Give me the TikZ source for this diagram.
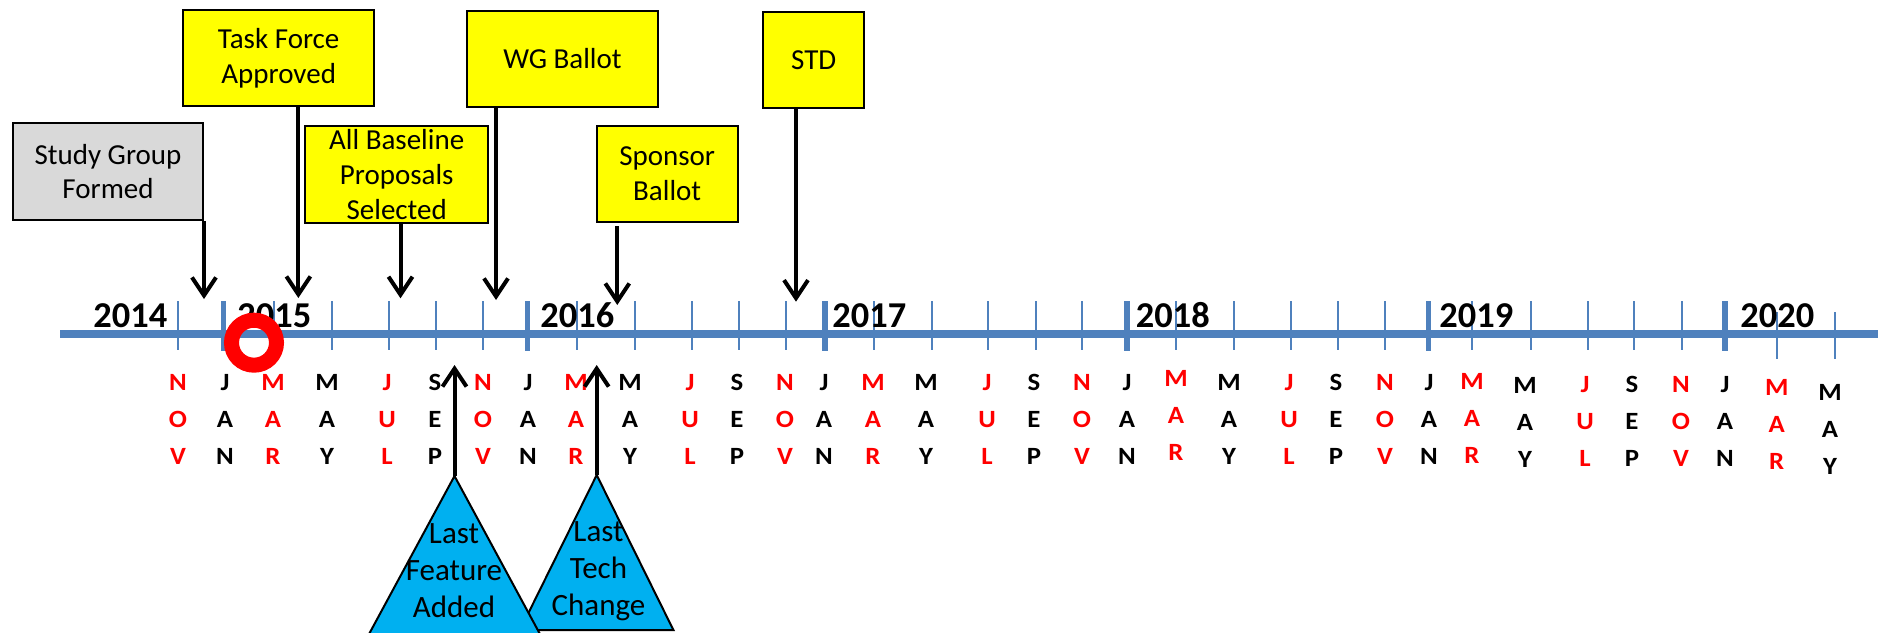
\documentclass[tikz,border=0pt]{standalone}
\usepackage{fontspec}
\setmainfont{Carlito}
\usetikzlibrary{arrows.meta}
\definecolor{axisblue}{HTML}{4F81BD}
\definecolor{boxgray}{HTML}{D9D9D9}
\definecolor{trifill}{HTML}{00B0F0}
\definecolor{monred}{HTML}{FF0000}
\definecolor{boxyellow}{HTML}{FFFF00}
\newfontfamily\monfam{Carlito}[FakeStretch=1.08]
\newcommand\boxfont{\fontsize{14.5pt}{17.3pt}\selectfont}
\newcommand\trifont{\fontsize{15.5pt}{18.5pt}\selectfont}
\newcommand\monfont{\monfam\bfseries\fontsize{12.4pt}{12.4pt}\selectfont}
\newcommand\yearfont{\bfseries\fontsize{18.2pt}{18.2pt}\selectfont}
\begin{document}
\begin{tikzpicture}[x=0.5pt,y=-0.5pt,
  box/.style={draw=black,line width=1pt,fill=boxyellow,align=center,inner sep=0pt,font=\boxfont},
  arr/.style={line width=2pt,-{Straight Barb[length=9pt,width=12pt]}},
  tick/.style={axisblue,line width=1pt},
  ytick/.style={axisblue,line width=2.6pt},
  mon/.style={anchor=base,inner sep=0pt,font=\monfont},
  yr/.style={anchor=base west,inner sep=0pt,font=\yearfont},
  tri/.style={draw=black,line width=1pt,fill=trifill,line join=miter},
  trit/.style={align=center,inner sep=0pt,font=\trifont}]
\useasboundingbox (0,0) rectangle (1878,632);
\clip (0,0) rectangle (1878,632);
% axis
\draw[axisblue,line width=4pt] (60,334) -- (1878,334);
\foreach \x in {178,274,331.5,389,436,482.5,576.7,635,692,738.6,786,873.5,932,988,1035.7,1082,1176,1234,1291,1338,1385,1472,1531,1588,1634,1681.5}
  \draw[tick] (\x,301) -- (\x,350);
\foreach \x in {1776.7,1835}
  \draw[tick] (\x,312) -- (\x,359);
\foreach \x in {223.5,527.6,825,1127,1428.6,1725}
  \draw[ytick] (\x,301) -- (\x,351);
% years
\node[yr] (y2014) at (93,327) {2014};
\node[yr] (y2015) at (237,327) {2015};
\node[yr] (y2016) at (540,327) {2016};
\node[yr] (y2017) at (832,327) {2017};
\node[yr] (y2018) at (1135.5,327) {2018};
\node[yr] (y2019) at (1439,327) {2019};
\node[yr] (y2020) at (1740,327) {2020};
% months
\foreach \x/\d/\a/\b/\c/\col [count=\i] in {
  178/0/N/O/V/monred,
  225/0/J/A/N/black, 273/0/M/A/R/monred, 327/0/M/A/Y/black, 387/0/J/U/L/monred, 435/0/S/E/P/black, 483/0/N/O/V/monred,
  528/0/J/A/N/black, 576/0/M/A/R/monred, 630/0/M/A/Y/black, 690/0/J/U/L/monred, 737/0/S/E/P/black, 785/0/N/O/V/monred,
  824/0/J/A/N/black, 873/0/M/A/R/monred, 926/0/M/A/Y/black, 987/0/J/U/L/monred, 1034/0/S/E/P/black, 1082/0/N/O/V/monred,
  1127/0/J/A/N/black, 1176/-4/M/A/R/monred, 1229/0/M/A/Y/black, 1289/0/J/U/L/monred, 1336/0/S/E/P/black, 1385/0/N/O/V/monred,
  1429/0/J/A/N/black, 1472/-1/M/A/R/monred, 1525/3/M/A/Y/black, 1585/2/J/U/L/monred, 1632/2/S/E/P/black, 1681/2/N/O/V/monred,
  1725/2/J/A/N/black, 1776.7/5/M/A/R/monred, 1830/10/M/A/Y/black} {
  \node[mon,text=\col] (m\i-1) at (\x,{390+\d}) {\a};
  \node[mon,text=\col] (m\i-2) at (\x,{427+\d}) {\b};
  \node[mon,text=\col] (m\i-3) at (\x,{464+\d}) {\c};
}
% red circle
\draw[monred,line width=7.5pt] (254,342.7) circle[radius=22.5];
% boxes
\node[box,fill=boxgray,minimum width=95.3pt,minimum height=48.3pt] (sg) at (108,171.7) {Study Group\\Formed};
\node[box,minimum width=95.3pt,minimum height=48pt] (tf) at (278.7,58) {Task Force\\Approved};
\node[box,minimum width=91.6pt,minimum height=48.3pt,font=\fontsize{14.5pt}{17.5pt}\selectfont] (ab) at (396.7,174.3) {All Baseline\\Proposals\\Selected};
\node[box,minimum width=95.8pt,minimum height=48pt] (wg) at (562.5,58.7) {WG Ballot};
\node[box,minimum width=70.5pt,minimum height=48pt] (sp) at (667.2,173.7) {Sponsor\\Ballot};
\node[box,minimum width=50.3pt,minimum height=48pt] (std) at (813.7,59.7) {STD};
% down arrows
\coordinate (sgT) at (204,299);
\coordinate (tfT) at (298.4,298);
\coordinate (abT) at (400.5,298.3);
\coordinate (wgT) at (496,300);
\coordinate (spT) at (617.3,305);
\coordinate (spS) at (617.3,226);
\coordinate (stdT) at (796,301.7);
\draw[arr] (sgT |- sg.south) -- (sgT);
\draw[arr] (tfT |- tf.south) -- (tfT);
\draw[arr] (abT |- ab.south) -- (abT);
\draw[arr] (wgT |- wg.south) -- (wgT);
\draw[arr] (spS) -- (spT);
\draw[arr] (stdT |- std.south) -- (stdT);
% triangles
\coordinate (ltcA) at (596.7,475);
\coordinate (lfaA) at (454.5,476);
\draw[tri] (ltcA) -- (520,630) -- (673.4,630) -- cycle;
\node[trit] (ltc) at (598.5,571.5) {Last\\Tech\\Change};
\draw[tri] (lfaA) -- (361.5,648) -- (547.5,648) -- cycle;
\node[trit] (lfa) at (454,571) {Last\\Feature\\Added};
\coordinate (lfaT) at (454.5,365);
\coordinate (ltcT) at (596.7,365);
\draw[arr] (lfaA) -- (lfaT);
\draw[arr] (ltcA) -- (ltcT);
\end{tikzpicture}
\end{document}
